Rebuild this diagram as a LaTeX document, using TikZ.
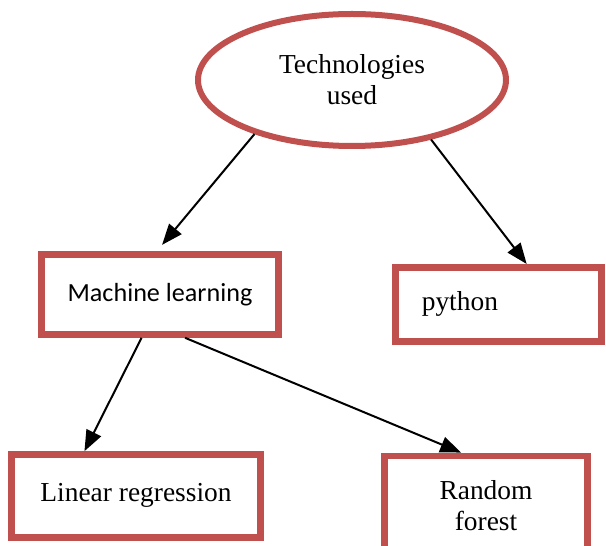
\documentclass[tikz,border=0pt]{standalone}
\usepackage{fontspec}
\setmainfont{Liberation Serif}
\newfontfamily\mlfont{Carlito}
\usetikzlibrary{shapes.geometric,arrows.meta}
\definecolor{boxred}{HTML}{C0504D}

\begin{document}
\begin{tikzpicture}[>={Triangle[length=0.52cm,width=0.4cm]}]
\useasboundingbox (0,0) rectangle (15.15,13.65);
\begin{scope}[every node/.style={rectangle,draw=boxred,line width=0.17cm,fill=white,
    align=center,font=\fontsize{19.5}{22}\selectfont}]
    \node[ellipse,line width=0.15cm,minimum width=7.7cm,minimum height=3.3cm] (T) at (8.8,11.65) {Technologies\\used};
    \node[minimum width=5.92cm,minimum height=2cm,font=\mlfont\fontsize{18.6}{22}\selectfont] (M) at (4,6.29) {Machine learning};
    \node[minimum height=1.85cm,text width=3.83cm,inner xsep=0.66cm,align=left] (P) at (12.46,6.04) {python};
    \node[minimum width=6.22cm,minimum height=2.07cm] (L) at (3.4,1.25) {\raisebox{0.2cm}{Linear regression}};
    \node[minimum width=5.07cm,minimum height=2.5cm] (R) at (12.15,1.0) {Random\\forest};
\end{scope}

\begin{scope}[every edge/.style={draw=black,line width=0.05cm}]
    \path [->] (T.209) edge[shorten >=0.2cm] (M.94);
    \path [->] (T.323) edge (P.55);
    \path [->] (M.247) edge (L.139);
    \path [->] (M.300) edge (R.115);
\end{scope}
\end{tikzpicture}
\end{document}
